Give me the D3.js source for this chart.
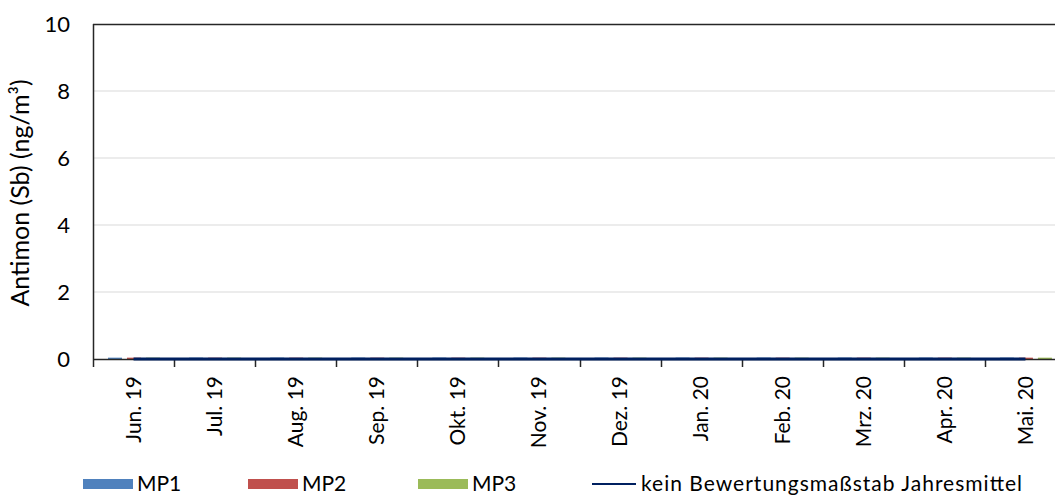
<!DOCTYPE html>
<html><head><meta charset="utf-8">
<script src="https://cdn.jsdelivr.net/npm/d3@7"></script>
<style>body{margin:0;background:#fff}svg{display:block}text{font-family:Lato,"Open Sans",sans-serif;fill:#000}</style>
</head><body><svg id="c" width="1055" height="496"></svg>
<script>
const categories=["Jun. 19","Jul. 19","Aug. 19","Sep. 19","Okt. 19","Nov. 19","Dez. 19","Jan. 20","Feb. 20","Mrz. 20","Apr. 20","Mai. 20"];
const mp1=[0.04,0.04,0.04,0.04,0.04,0.04,0.04,0.04,0.04,0.04,0.04,0.04];
const mp2=[0.04,0.04,0.04,0.04,0.04,0.04,0.04,0.04,0.04,0.04,0.04,0.04];
const mp3=[0.04,0.04,0.04,0.04,0.04,0.04,0.04,0.04,0.04,0.04,0.04,0.04];
const limitLine=[0,0,0,0,0,0,0,0,0,0,0,0];
const yTicks=[0,2,4,6,8,10];
const seriesNames=["MP1","MP2","MP3"];
const lineName="kein Bewertungsmaßstab Jahresmittel";
const colors=["#4f81bd","#c0504d","#9bbb59"];
const lineColor="#002060";

const svg=d3.select("#c");
const L=93,R=1066,T=24,B=359;
const x=d3.scaleBand().domain(categories).range([L,R]).padding(0);
const x1=d3.scaleBand().domain(seriesNames).range([15,67]).paddingInner(0.263).paddingOuter(0);
const y=d3.scaleLinear().domain([0,10]).range([B,T]);

svg.append("g").selectAll("line").data(yTicks.filter(d=>d>0&&d<10)).join("line")
 .attr("x1",L).attr("x2",R).attr("y1",d=>y(d)).attr("y2",d=>y(d))
 .attr("stroke","#d9d9d9").attr("stroke-width",1);

const ya=svg.append("g").attr("transform",`translate(${L},0)`)
 .call(d3.axisLeft(y).tickValues(yTicks).tickSize(0).tickPadding(23).tickFormat(d3.format("d")));
ya.select(".domain").remove();
ya.selectAll("text").style("font-size","22px").style("font-family","Lato,'Open Sans',sans-serif").attr("fill","#000");

const series=[mp1,mp2,mp3];
series.forEach((vals,si)=>{
 svg.append("g").selectAll("rect").data(vals).join("rect")
  .attr("x",(d,i)=>x(categories[i])+x1(seriesNames[si]))
  .attr("width",x1.bandwidth())
  .attr("y",d=>y(d)).attr("height",d=>B-y(d))
  .attr("fill",colors[si]);
});

svg.append("line").attr("x1",L).attr("x2",R).attr("y1",T+0.5).attr("y2",T+0.5).attr("stroke","#262626").attr("stroke-width",1.5);
svg.append("line").attr("x1",L+0.5).attr("x2",L+0.5).attr("y1",T).attr("y2",B).attr("stroke","#262626").attr("stroke-width",1.5);

const xa=svg.append("g").attr("transform",`translate(0,${B})`)
 .call(d3.axisBottom(x).tickSize(0).tickPadding(0));
xa.select(".domain").attr("stroke","#262626").attr("stroke-width",1.5);
xa.selectAll(".tick text").attr("transform","rotate(-90)").attr("text-anchor","end")
 .attr("x",-17).attr("y",0).attr("dy","0.35em").style("font-size","21px").style("font-family","Lato,'Open Sans',sans-serif").attr("fill","#000");
const bounds=categories.map(c=>x(c));
svg.append("g").selectAll("line").data(bounds).join("line")
 .attr("x1",d=>Math.round(d)+0.5).attr("x2",d=>Math.round(d)+0.5).attr("y1",B).attr("y2",B+8)
 .attr("stroke","#262626").attr("stroke-width",1.5);

svg.append("path").datum(limitLine)
 .attr("d",d3.line().x((d,i)=>x(categories[i])+x.bandwidth()/2).y(d=>y(d)))
 .attr("fill","none").attr("stroke",lineColor).attr("stroke-width",3);

svg.append("text").attr("transform","translate(29,193) rotate(-90)").attr("text-anchor","middle")
 .style("font-size","25px").text("Antimon (Sb) (ng/m³)");

const lg=svg.append("g");
const lx=[83,248,418];
const ly=484;
seriesNames.forEach((n,i)=>{
 lg.append("rect").attr("x",lx[i]).attr("y",ly-5).attr("width",50).attr("height",10).attr("fill",colors[i]);
 lg.append("text").attr("x",lx[i]+54).attr("y",ly).attr("dy","0.35em").style("font-size","21px").text(n);
});
lg.append("line").attr("x1",592).attr("x2",636).attr("y1",ly).attr("y2",ly).attr("stroke",lineColor).attr("stroke-width",2);
lg.append("text").attr("x",641).attr("y",ly).attr("dy","0.35em").style("font-size","21px").attr("textLength",381).text(lineName);
</script></body></html>
